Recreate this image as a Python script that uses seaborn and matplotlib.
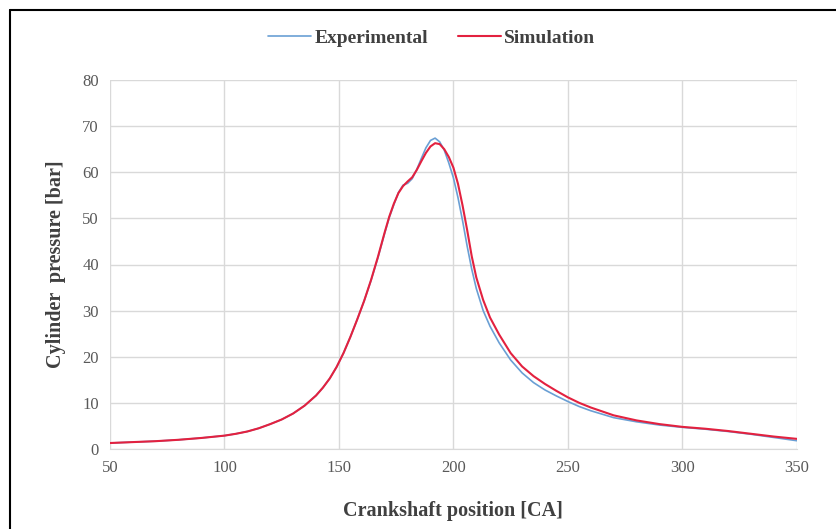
import matplotlib
matplotlib.use('Agg')
import matplotlib.pyplot as plt
from matplotlib.lines import Line2D
import pandas as pd
import seaborn as sns

# crank angle samples
crank = [50, 60, 70, 80, 90, 100, 105, 110, 115, 120, 125, 130, 135, 140,
         143, 146, 149, 152, 155, 158, 161, 164, 167, 170, 172, 174, 176, 178,
         180, 182, 184, 186, 188, 190, 192, 194, 196, 198, 200, 202, 204, 206,
         208, 210, 213, 216, 220, 225, 230, 235, 240, 245, 250, 255, 260, 270,
         280, 290, 300, 310, 320, 330, 340, 350]

experimental = [1.3, 1.5, 1.7, 2.0, 2.4, 2.9, 3.3, 3.8, 4.5, 5.4, 6.4, 7.7, 9.4, 11.6,
                13.3, 15.3, 17.8, 20.8, 24.3, 28.1, 32.1, 36.5, 41.4, 46.8, 50.2, 53.0,
                55.6, 57.2, 57.6, 58.6, 60.6, 63.0, 65.3, 66.9, 67.4, 66.6, 64.8, 62.0,
                58.8, 54.5, 49.5, 44.0, 39.0, 34.8, 30.0, 26.6, 23.0, 19.3, 16.5, 14.4,
                12.8, 11.5, 10.3, 9.2, 8.3, 6.8, 5.9, 5.2, 4.7, 4.3, 3.8, 3.2, 2.5, 1.8]

simulation = [1.3, 1.5, 1.7, 2.0, 2.4, 2.9, 3.3, 3.8, 4.5, 5.4, 6.4, 7.7, 9.4, 11.6,
              13.3, 15.3, 17.8, 20.8, 24.3, 28.1, 32.1, 36.6, 41.6, 47.0, 50.4, 53.2,
              55.5, 57.0, 58.0, 58.9, 60.5, 62.4, 64.2, 65.6, 66.3, 66.1, 65.0, 63.3,
              61.0, 57.5, 52.8, 47.5, 41.8, 37.2, 32.3, 28.5, 24.8, 20.8, 17.9, 15.8,
              14.1, 12.6, 11.2, 10.0, 9.0, 7.3, 6.2, 5.4, 4.8, 4.4, 3.9, 3.3, 2.7, 2.2]

x_ticks = [50, 100, 150, 200, 250, 300, 350]
y_ticks = [0, 10, 20, 30, 40, 50, 60, 70, 80]

df = pd.DataFrame({
    'crank': crank * 2,
    'pressure': experimental + simulation,
    'series': ['Experimental'] * len(crank) + ['Simulation'] * len(crank),
})

sns.set_style('white')
plt.rcParams['font.family'] = ['Liberation Serif', 'DejaVu Serif']

fig = plt.figure(figsize=(8.37, 5.29), dpi=100)
ax = fig.add_axes([0.1314, 0.1512, 0.8206, 0.6976])

sns.lineplot(data=df, x='crank', y='pressure', hue='series',
             palette={'Experimental': '#6a9fd4', 'Simulation': '#e3213f'},
             ax=ax, legend=False)
for line, lw in zip(ax.lines, [1.2, 1.5]):
    line.set_linewidth(lw)

ax.set_xlim(50, 350)
ax.set_ylim(0, 80)
ax.set_xticks(x_ticks)
ax.set_yticks(y_ticks)
ax.grid(True, color='#d9d9d9', linewidth=1.0)
ax.set_axisbelow(True)
for side in ['top', 'right', 'left']:
    ax.spines[side].set_visible(False)
ax.spines['bottom'].set_color('#d9d9d9')
ax.tick_params(axis='both', length=0, labelsize=12, labelcolor='#595959', pad=8)

ax.set_xlabel('Crankshaft position [CA]', fontsize=14.5, fontweight='bold',
              color='#404040', labelpad=18)
ax.set_ylabel('Cylinder  pressure [bar]', fontsize=14.5, fontweight='bold',
              color='#404040', labelpad=12)

handles = [Line2D([0], [0], color='#6a9fd4', lw=1.2),
           Line2D([0], [0], color='#e3213f', lw=1.5)]
fig.legend(handles, ['Experimental', 'Simulation'], loc='center',
           bbox_to_anchor=(0.516, 0.928), ncol=2, frameon=False,
           handlelength=2.2, handletextpad=0.2, columnspacing=1.5,
           prop={'family': 'Liberation Serif', 'weight': 'bold', 'size': 14})
for t in fig.legends[0].get_texts():
    t.set_color('#404040')

# black frame around the picture (left and top edges visible)
fig.add_artist(Line2D([0.012, 0.012], [0.0, 0.981], color='black', lw=1.5,
                      transform=fig.transFigure))
fig.add_artist(Line2D([0.012, 1.0], [0.981, 0.981], color='black', lw=1.5,
                      transform=fig.transFigure))

fig.savefig('out.png', dpi=100)
